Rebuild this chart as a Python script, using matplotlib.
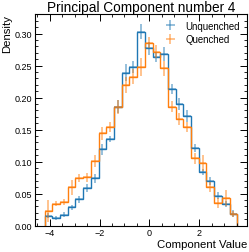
import numpy as np
import matplotlib
matplotlib.use("Agg")
import matplotlib.pyplot as plt
from matplotlib.ticker import AutoMinorLocator, MultipleLocator

# bin edges of the histogram (25 bins)
edges = np.linspace(-4.2, 3.52, 26)

unquenched = [0.0157, 0.012, 0.017, 0.029, 0.041, 0.059, 0.074, 0.119, 0.135,
              0.186, 0.239, 0.248, 0.303, 0.277, 0.264, 0.268, 0.214, 0.190,
              0.171, 0.121, 0.084, 0.070, 0.047, 0.034, 0.019]
unquenched_err = [0.004, 0.003, 0.004, 0.004, 0.005, 0.006, 0.007, 0.008, 0.005,
                  0.010, 0.013, 0.010, 0.012, 0.010, 0.008, 0.011, 0.008, 0.009,
                  0.009, 0.006, 0.005, 0.006, 0.005, 0.005, 0.005]

quenched = [0.023, 0.034, 0.037, 0.060, 0.074, 0.076, 0.101, 0.144, 0.154,
            0.186, 0.220, 0.233, 0.248, 0.286, 0.272, 0.246, 0.186, 0.167,
            0.154, 0.105, 0.098, 0.060, 0.035, 0.043, 0.018]
quenched_err = [0.017, 0.004, 0.005, 0.012, 0.006, 0.007, 0.009, 0.010, 0.008,
                0.011, 0.013, 0.012, 0.014, 0.009, 0.010, 0.012, 0.009, 0.009,
                0.008, 0.008, 0.012, 0.008, 0.008, 0.012, 0.005]

plt.rcParams['font.family'] = ['Liberation Sans', 'DejaVu Sans']

fig = plt.figure(figsize=(2.49, 2.53), dpi=100)
ax = fig.add_axes([0.1406, 0.104, 0.851, 0.837])

centers = 0.5 * (edges[1:] + edges[:-1])
half_w = 0.5 * np.diff(edges)

for vals, errs, color, label in [(unquenched, unquenched_err, '#1f77b4', 'Unquenched'),
                                 (quenched, quenched_err, '#ff7f0e', 'Quenched')]:
    ax.stairs(vals, edges, color=color, linewidth=1.0)
    ax.errorbar(centers, vals, xerr=half_w, yerr=errs, fmt='none',
                ecolor=color, elinewidth=1.3, alpha=0.5, label=label)

ax.set_ylim(bottom=0)
ax.set_title("Principal Component number 4", fontsize=9.8, pad=2)
ax.set_xlabel("Component Value", fontsize=8.2, loc='right', labelpad=1)
ax.set_ylabel("Density", fontsize=8.2, loc='top', labelpad=2)

ax.xaxis.set_major_locator(MultipleLocator(2))
ax.xaxis.set_minor_locator(AutoMinorLocator())
ax.yaxis.set_major_locator(MultipleLocator(0.05))
ax.yaxis.set_minor_locator(MultipleLocator(0.01))
ax.tick_params(which='both', direction='in', top=True, right=True, labelsize=6.5, pad=2)
ax.tick_params(which='major', length=5, width=0.7)
ax.tick_params(which='minor', length=2.5, width=0.6)
ax.yaxis.set_major_formatter(matplotlib.ticker.FormatStrFormatter('%.2f'))
for s in ax.spines.values():
    s.set_linewidth(0.8)

leg = ax.legend(loc='upper right', frameon=False, fontsize=6.9,
                handlelength=1.6, borderaxespad=0.3, labelspacing=0.4)
for h in leg.legend_handles:
    for c in h.get_children():
        c.set_alpha(1.0)

fig.savefig("out.png", dpi=100)
